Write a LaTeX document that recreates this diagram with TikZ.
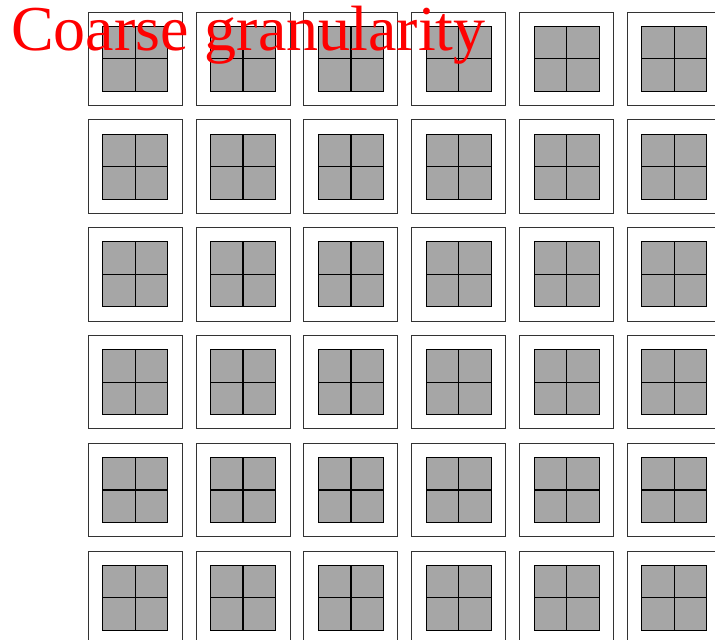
\documentclass[tikz,border=0pt]{standalone}
\usepackage{fontspec}
\setmainfont{Liberation Serif}
\definecolor{cellgray}{HTML}{A6A6A6}
\definecolor{outerline}{HTML}{333333}
\tikzset{
  outerbox/.style={draw=outerline, line width=1pt, fill=white, minimum width=94pt, minimum height=93.5pt, inner sep=0pt, outer sep=0pt},
  innerbox/.style={draw=black, line width=1pt, fill=cellgray, minimum size=65pt, inner sep=0pt, outer sep=0pt},
  divider/.style={draw=black, line width=1.3pt},
  titletext/.style={text=red, font=\fontsize{64}{70}\selectfont, inner sep=0pt, anchor=base west}
}
\begin{document}
\begin{tikzpicture}[x=1pt,y=-1pt]
\useasboundingbox (0,0) rectangle (715,640);
\foreach \i in {0,...,5}{
  \foreach \j in {0,...,5}{
    \node[outerbox] (o\i\j) at ({135.3+107.8*\i},{58.8+107.8*\j}) {};
    \node[innerbox] (c\i\j) at (o\i\j.center) {};
    \draw[divider] (c\i\j.north) -- (c\i\j.south);
    \draw[divider] (c\i\j.west) -- (c\i\j.east);
  }
}
\node[titletext] (title) at (11,50) {Coarse granularity};
\end{tikzpicture}
\end{document}
